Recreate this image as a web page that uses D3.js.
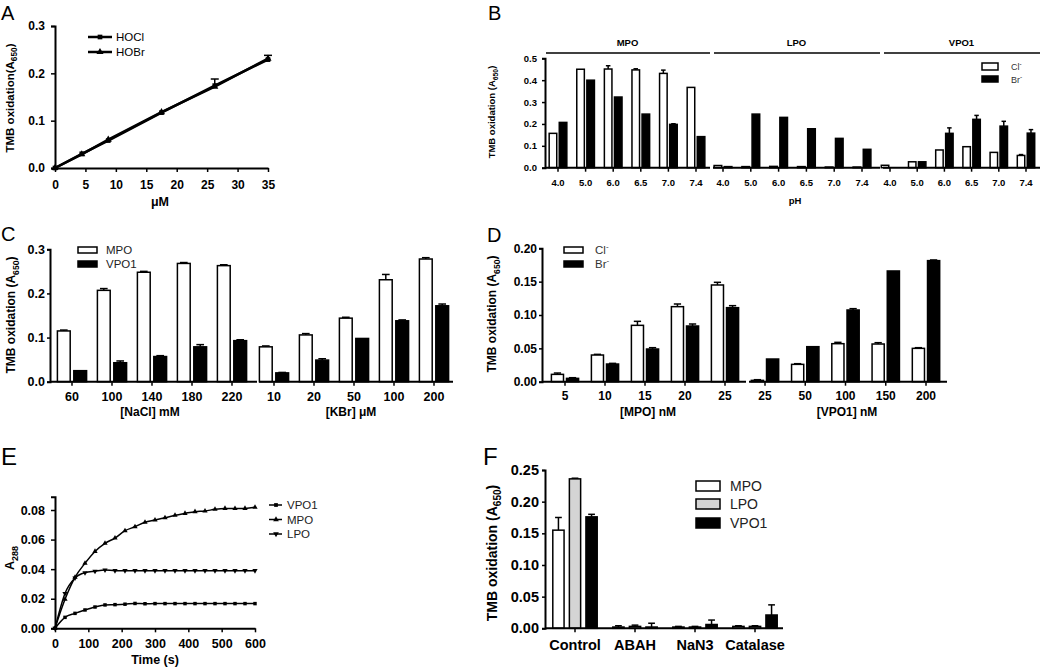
<!DOCTYPE html>
<html>
<head>
<meta charset="utf-8">
<script src="https://cdnjs.cloudflare.com/ajax/libs/d3/7.8.5/d3.min.js"></script>
<style>
body { margin: 0; background: #fff; }
svg text { font-family: "Liberation Sans", Arial, sans-serif; }
</style>
</head>
<body>
<script>
// ---- data ----
// A: TMB oxidation vs oxidant dose
var aDose = [0, 4.4, 8.75, 17.5, 26.25, 35];
var aHOCl = [0, 0.030, 0.058, 0.117, 0.174, 0.229];
var aHOBr = [0, 0.029, 0.060, 0.118, 0.172, 0.231];
var aErr = [0, 0.001, 0.002, 0.002, 0.014, 0.009];
var aTicksX = [0, 5, 10, 15, 20, 25, 30, 35];
var aTicksY = [0, 0.1, 0.2, 0.3];

// B: pH dependence
var bPH = ["4.0", "5.0", "6.0", "6.5", "7.0", "7.4"];
var bEnzymes = ["MPO", "LPO", "VPO1"];
var bCl = [[0.157, 0.450, 0.451, 0.447, 0.431, 0.367],
           [0.010, 0.005, 0.006, 0.005, 0.003, 0.003],
           [0.011, 0.027, 0.081, 0.096, 0.070, 0.056]];
var bClErr = [[0, 0, 0.015, 0.005, 0.015, 0],
              [0, 0, 0, 0, 0, 0],
              [0, 0, 0, 0, 0, 0.004]];
var bBr = [[0.207, 0.400, 0.323, 0.245, 0.198, 0.142],
           [0.005, 0.245, 0.230, 0.178, 0.134, 0.084],
           [0.000, 0.027, 0.157, 0.221, 0.190, 0.158]];
var bBrErr = [[0, 0, 0, 0, 0.003, 0],
              [0, 0, 0, 0, 0, 0],
              [0, 0, 0.025, 0.018, 0.022, 0.016]];
var bTicksY = [0, 0.1, 0.2, 0.3, 0.4, 0.5];

// C: halide concentration
var cNaCl = ["60", "100", "140", "180", "220"];
var cNaClMPO = [0.115, 0.207, 0.248, 0.268, 0.263];
var cNaClMPOErr = [0.002, 0.004, 0.002, 0.002, 0.002];
var cNaClVPO1 = [0.025, 0.043, 0.057, 0.079, 0.093];
var cNaClVPO1Err = [0, 0.004, 0.002, 0.005, 0.002];
var cKBr = ["10", "20", "50", "100", "200"];
var cKBrMPO = [0.079, 0.106, 0.144, 0.231, 0.278];
var cKBrMPOErr = [0.002, 0.003, 0.002, 0.012, 0.003];
var cKBrVPO1 = [0.020, 0.049, 0.098, 0.138, 0.172];
var cKBrVPO1Err = [0.001, 0.003, 0, 0.002, 0.004];
var cTicksY = [0, 0.1, 0.2, 0.3];

// D: enzyme concentration
var dMPO = ["5", "10", "15", "20", "25"];
var dMPOCl = [0.011, 0.040, 0.0845, 0.1125, 0.145];
var dMPOClErr = [0.002, 0.001, 0.006, 0.004, 0.004];
var dMPOBr = [0.005, 0.0265, 0.049, 0.0835, 0.111];
var dMPOBrErr = [0.001, 0.001, 0.002, 0.003, 0.003];
var dVPO1 = ["25", "50", "100", "150", "200"];
var dVPO1Cl = [0.002, 0.026, 0.057, 0.0565, 0.050];
var dVPO1ClErr = [0.001, 0.001, 0.002, 0.002, 0.001];
var dVPO1Br = [0.034, 0.0525, 0.1075, 0.166, 0.1815];
var dVPO1BrErr = [0, 0, 0.002, 0, 0.001];
var dTicksY = [0, 0.05, 0.10, 0.15, 0.20];

// E: kinetics A288
var eTime = [0, 30, 60, 90, 120, 150, 180, 210, 240, 270, 300, 330, 360, 390, 420, 450, 480, 510, 540, 570, 600];
var eVPO1 = [0, 0.0074, 0.0101, 0.0124, 0.0144, 0.0158, 0.0160, 0.0163, 0.0168, 0.0166, 0.0167, 0.0167, 0.0167, 0.0167, 0.0167, 0.0167, 0.0167, 0.0167, 0.0167, 0.0167, 0.0167];
var eMPO = [0, 0.0196, 0.0345, 0.0440, 0.0520, 0.0575, 0.0610, 0.0660, 0.0687, 0.0717, 0.0732, 0.0748, 0.0764, 0.0777, 0.0789, 0.0793, 0.0805, 0.0811, 0.0810, 0.0811, 0.0818];
var eLPO = [0, 0.0236, 0.0340, 0.0376, 0.0386, 0.0394, 0.0390, 0.0390, 0.0390, 0.0390, 0.0390, 0.0390, 0.0390, 0.0390, 0.0390, 0.0390, 0.0390, 0.0390, 0.0390, 0.0390, 0.0390];
var eTicksX = [0, 100, 200, 300, 400, 500, 600];
var eTicksY = [0, 0.02, 0.04, 0.06, 0.08];

// F: inhibitors
var fTreat = ["Control", "ABAH", "NaN3", "Catalase"];
var fMPO = [0.155, 0.002, 0.002, 0.003];
var fMPOErr = [0.020, 0.002, 0.001, 0.001];
var fLPO = [0.236, 0.003, 0.002, 0.003];
var fLPOErr = [0.001, 0.002, 0.001, 0.001];
var fVPO1 = [0.176, 0.002, 0.006, 0.021];
var fVPO1Err = [0.004, 0.006, 0.007, 0.016];
var fTicksY = [0, 0.05, 0.10, 0.15, 0.20, 0.25];

// ---- helpers ----
var svg = d3.select("body").append("svg").attr("width", 1050).attr("height", 669);

function styleAxis(g, fs) {
    g.select(".domain").attr("stroke", "#000").attr("stroke-width", 2);
    g.selectAll(".tick line").attr("stroke", "#000").attr("stroke-width", 1.5);
    g.selectAll(".tick text").attr("fill", "#000")
        .style("font-weight", "bold").style("font-size", fs + "px");
}

function yAxis(y, x, ticks, fmt, fs, size, pad) {
    var g = svg.append("g").attr("transform", "translate(" + x + ",0)")
        .call(d3.axisLeft(y).tickValues(ticks).tickFormat(d3.format(fmt))
            .tickSizeOuter(0).tickSize(size).tickPadding(pad));
    styleAxis(g, fs);
}

function segment(cats, centers, axis) {
    // band centred on the first/last category positions
    var step = (centers[1] - centers[0]) / (cats.length - 1);
    return {cats: cats, axis: axis,
        x: d3.scaleBand().domain(cats).range([centers[0] - step / 2, centers[1] + step / 2])};
}

function segAxis(seg, y0, fs, pad) {
    var g = svg.append("g").attr("transform", "translate(0," + y0 + ")")
        .call(d3.axisBottom(seg.x).tickSize(4).tickSizeOuter(0).tickPadding(pad));
    g.select(".domain").attr("d", "M" + seg.axis[0] + ",0H" + seg.axis[1]);
    styleAxis(g, fs);
}

function drawBars(seg, y, series, groupPad, barPad) {
    seg.x.paddingInner(groupPad).paddingOuter(groupPad / 2);
    var sub = d3.scaleBand().domain(d3.range(series.length))
        .range([0, seg.x.bandwidth()]).paddingInner(barPad);
    series.forEach(function (s, i) {
        var g = svg.append("g");
        seg.cats.forEach(function (c, j) {
            var v = s.vals[j], e = s.errs[j];
            var bx = seg.x(c) + sub(i), bw = sub.bandwidth(), cx = bx + bw / 2;
            if (e > 0) {
                g.append("line").attr("x1", cx).attr("x2", cx).attr("y1", y(v)).attr("y2", y(v + e))
                    .attr("stroke", "#000").attr("stroke-width", 1.5);
                g.append("line").attr("x1", cx - bw * 0.3).attr("x2", cx + bw * 0.3)
                    .attr("y1", y(v + e)).attr("y2", y(v + e)).attr("stroke", "#000").attr("stroke-width", 1.5);
            }
            g.append("rect").attr("x", bx).attr("y", y(v)).attr("width", bw)
                .attr("height", Math.max(0, y(0) - y(v)))
                .attr("fill", s.fill).attr("stroke", "#000").attr("stroke-width", 1.5);
        });
    });
}

function label(x, y, txt, fs, weight, anchor) {
    return svg.append("text").attr("x", x).attr("y", y).attr("text-anchor", anchor || "middle")
        .style("font-size", fs + "px").style("font-weight", weight || "bold").text(txt);
}

function yTitle(x, y, fs, main, sub, tail) {
    var t = svg.append("text").attr("transform", "translate(" + x + "," + y + ") rotate(-90)")
        .attr("text-anchor", "middle").style("font-size", fs + "px").style("font-weight", "bold");
    t.append("tspan").text(main);
    if (sub) {
        t.append("tspan").attr("dy", fs * 0.3).style("font-size", (fs * 0.72) + "px").text(sub);
        t.append("tspan").attr("dy", -fs * 0.3).text(tail);
    }
}

function ionText(x, y, base, fs) {
    var t = svg.append("text").attr("x", x).attr("y", y).style("font-size", fs + "px").attr("fill", "#333");
    t.append("tspan").text(base);
    t.append("tspan").attr("dy", -fs * 0.4).style("font-size", (fs * 0.7) + "px").text("-");
}

function legendBox(x, y, w, h, fill, txt, fs, tx) {
    svg.append("rect").attr("x", x).attr("y", y).attr("width", w).attr("height", h)
        .attr("fill", fill).attr("stroke", "#000").attr("stroke-width", 1.5);
    if (txt) label(x + w + tx, y + h / 2 + fs * 0.36, txt, fs, "normal", "start").attr("fill", "#222");
}

function panelLetter(x, y, t, fs) {
    label(x, y, t, fs, "normal", "start");
}

// ---- Panel A ----
var ax = d3.scaleLinear().domain([0, 35]).range([55, 268]);
var ay = d3.scaleLinear().domain([0, 0.3]).range([168, 26]);
var gA = svg.append("g").attr("transform", "translate(0,168)")
    .call(d3.axisBottom(ax).tickValues(aTicksX).tickSize(4).tickSizeOuter(0).tickPadding(8));
styleAxis(gA, 12);
yAxis(ay, 55, aTicksY, ".1f", 12, 4, 6);
[{v: aHOCl, sym: d3.symbolSquare}, {v: aHOBr, sym: d3.symbolTriangle}].forEach(function (s) {
    svg.append("path").datum(aDose)
        .attr("d", d3.line().x(function (d) { return ax(d); }).y(function (d, i) { return ay(s.v[i]); }))
        .attr("fill", "none").attr("stroke", "#000").attr("stroke-width", 2.5);
    svg.selectAll(null).data(aDose).enter().append("path")
        .attr("transform", function (d, i) { return "translate(" + ax(d) + "," + ay(s.v[i]) + ")"; })
        .attr("d", d3.symbol().type(s.sym).size(22));
});
aDose.forEach(function (d, i) {
    if (aErr[i] > 0.005) {
        var x = ax(d), y1 = ay(aHOCl[i]), y2 = ay(aHOCl[i] + aErr[i]);
        svg.append("line").attr("x1", x).attr("x2", x).attr("y1", y1).attr("y2", y2).attr("stroke", "#000").attr("stroke-width", 1.5);
        svg.append("line").attr("x1", x - 4).attr("x2", x + 4).attr("y1", y2).attr("y2", y2).attr("stroke", "#000").attr("stroke-width", 1.5);
    }
});
[["HOCl", d3.symbolSquare, 37], ["HOBr", d3.symbolTriangle, 52]].forEach(function (l) {
    svg.append("line").attr("x1", 88).attr("x2", 112).attr("y1", l[2]).attr("y2", l[2]).attr("stroke", "#000").attr("stroke-width", 2.5);
    svg.append("path").attr("transform", "translate(100," + l[2] + ")").attr("d", d3.symbol().type(l[1]).size(22));
    label(116, l[2] + 4, l[0], 11.5, "normal", "start");
});
yTitle(14, 98, 11.5, "TMB oxidation(A", "650", ")");
label(160, 206, "\u03bcM", 12.5);
panelLetter(1, 20, "A", 20);

// ---- Panel B ----
var by = d3.scaleLinear().domain([0, 0.5]).range([167.7, 58.3]);
var bSegs = [segment(bPH, [558, 696], [545, 710]),
             segment(bPH, [723, 862], [713, 880]),
             segment(bPH, [890, 1026], [883, 1040])];
yAxis(by, 545, bTicksY, ".1f", 9.5, 3, 5);
bSegs.forEach(function (seg, k) {
    drawBars(seg, by, [{vals: bCl[k], errs: bClErr[k], fill: "#fff"},
                       {vals: bBr[k], errs: bBrErr[k], fill: "#000"}], 0.36, 0.25);
    segAxis(seg, 167.7, 9.5, 8);
    svg.append("line").attr("x1", seg.axis[0] + 1).attr("x2", seg.axis[1]).attr("y1", 53).attr("y2", 53)
        .attr("stroke", "#000").attr("stroke-width", 1.5);
    label((seg.axis[0] + seg.axis[1]) / 2, 46, bEnzymes[k], 9.5);
});
legendBox(982, 63, 16, 7, "#fff", null);
legendBox(982, 76, 16, 6, "#000", null);
ionText(1011, 70, "Cl", 9);
ionText(1011, 83, "Br", 9);
yTitle(495, 112, 9.5, "TMB oxidation (A", "650", ")");
label(795, 204, "pH", 9.5);
panelLetter(488, 20, "B", 20);

// ---- Panel C ----
var cy = d3.scaleLinear().domain([0, 0.3]).range([381.7, 249.3]);
var cSeg1 = segment(cNaCl, [72, 232], [50, 257]);
var cSeg2 = segment(cKBr, [274, 434], [259, 453]);
yAxis(cy, 50, cTicksY, ".1f", 12.5, 3, 2);
drawBars(cSeg1, cy, [{vals: cNaClMPO, errs: cNaClMPOErr, fill: "#fff"},
                     {vals: cNaClVPO1, errs: cNaClVPO1Err, fill: "#000"}], 0.27, 0.22);
drawBars(cSeg2, cy, [{vals: cKBrMPO, errs: cKBrMPOErr, fill: "#fff"},
                     {vals: cKBrVPO1, errs: cKBrVPO1Err, fill: "#000"}], 0.27, 0.22);
segAxis(cSeg1, 381.7, 12.5, 6);
segAxis(cSeg2, 381.7, 12.5, 6);
legendBox(78, 247, 19, 6, "#fff", "MPO", 11.5, 9);
legendBox(78, 261, 19, 6, "#000", "VPO1", 11.5, 9);
yTitle(15, 315, 12, "TMB oxidation (A", "650", ")");
label(150, 416, "[NaCl] mM", 12);
label(351, 416, "[KBr] \u03bcM", 12);
panelLetter(1, 241, "C", 20);

// ---- Panel D ----
var dy = d3.scaleLinear().domain([0, 0.2]).range([381.7, 248.3]);
var dSeg1 = segment(dMPO, [565, 725], [542, 746]);
var dSeg2 = segment(dVPO1, [765, 926], [749, 947]);
yAxis(dy, 542, dTicksY, ".2f", 12, 3, 2);
drawBars(dSeg1, dy, [{vals: dMPOCl, errs: dMPOClErr, fill: "#fff"},
                     {vals: dMPOBr, errs: dMPOBrErr, fill: "#000"}], 0.32, 0.2);
drawBars(dSeg2, dy, [{vals: dVPO1Cl, errs: dVPO1ClErr, fill: "#fff"},
                     {vals: dVPO1Br, errs: dVPO1BrErr, fill: "#000"}], 0.32, 0.2);
segAxis(dSeg1, 381.7, 12, 6);
segAxis(dSeg2, 381.7, 12, 6);
legendBox(564, 247, 19, 6, "#fff", null);
legendBox(564, 261, 19, 6, "#000", null);
ionText(595, 254, "Cl", 11.5);
ionText(595, 268, "Br", 11.5);
yTitle(496, 314, 12, "TMB oxidation (A", "650", ")");
label(648, 416, "[MPO] nM", 12);
label(847, 416, "[VPO1] nM", 12);
panelLetter(487, 242, "D", 20);

// ---- Panel E ----
var ex = d3.scaleLinear().domain([0, 600]).range([55, 255]);
var ey = d3.scaleLinear().domain([0, 0.089]).range([628.3, 496.7]);
var gE = svg.append("g").attr("transform", "translate(0,628.3)")
    .call(d3.axisBottom(ex).tickValues(eTicksX).tickSize(4).tickSizeOuter(0).tickPadding(7));
styleAxis(gE, 12.5);
yAxis(ey, 55, eTicksY, ".2f", 12.5, 4, 6);
var triDown = {draw: function (ctx, size) { d3.symbolTriangle.draw(ctx, size); }};
var eSeries = [{v: eVPO1, sym: d3.symbolSquare, rot: 0, name: "VPO1"},
               {v: eMPO, sym: d3.symbolTriangle, rot: 0, name: "MPO"},
               {v: eLPO, sym: d3.symbolTriangle, rot: 180, name: "LPO"}];
eSeries.forEach(function (s, k) {
    svg.append("path").datum(eTime)
        .attr("d", d3.line().curve(d3.curveMonotoneX)
            .x(function (d) { return ex(d); }).y(function (d, i) { return ey(s.v[i]); }))
        .attr("fill", "none").attr("stroke", "#000").attr("stroke-width", 1.5);
    svg.selectAll(null).data(eTime).enter().append("path")
        .attr("transform", function (d, i) { return "translate(" + ex(d) + "," + ey(s.v[i]) + ") rotate(" + s.rot + ")"; })
        .attr("d", d3.symbol().type(s.sym).size(12));
    var ly = 505 + k * 14.5;
    svg.append("line").attr("x1", 269).attr("x2", 282).attr("y1", ly).attr("y2", ly).attr("stroke", "#000").attr("stroke-width", 1.5);
    svg.append("path").attr("transform", "translate(276," + ly + ") rotate(" + s.rot + ")").attr("d", d3.symbol().type(s.sym).size(14));
    label(287, ly + 4, s.name, 11.5, "normal", "start").attr("fill", "#222");
});
var eyt = svg.append("text").attr("transform", "translate(14,558) rotate(-90)").attr("text-anchor", "middle")
    .style("font-size", "12.5px").style("font-weight", "bold");
eyt.append("tspan").text("A");
eyt.append("tspan").attr("dy", 3.5).style("font-size", "9px").text("288");
label(155, 664, "Time (s)", 12.5);
panelLetter(1, 465, "E", 24);

// ---- Panel F ----
var fy = d3.scaleLinear().domain([0, 0.25]).range([628.3, 470]);
var fSeg = segment(fTreat, [575, 755], [545, 783]);
yAxis(fy, 545, fTicksY, ".2f", 14.5, 3, 3);
drawBars(fSeg, fy, [{vals: fMPO, errs: fMPOErr, fill: "#fff"},
                    {vals: fLPO, errs: fLPOErr, fill: "#d4d4d4"},
                    {vals: fVPO1, errs: fVPO1Err, fill: "#000"}], 0.26, 0.32);
segAxis(fSeg, 628.3, 14.5, 7);
legendBox(696, 481, 24, 10, "#fff", "MPO", 14, 10);
legendBox(696, 499, 24, 10, "#d4d4d4", "LPO", 14, 10);
legendBox(696, 518, 24, 10, "#000", "VPO1", 14, 10);
yTitle(497, 553, 14, "TMB oxidation (A", "650", ")");
panelLetter(483, 465, "F", 24);
</script>
</body>
</html>
